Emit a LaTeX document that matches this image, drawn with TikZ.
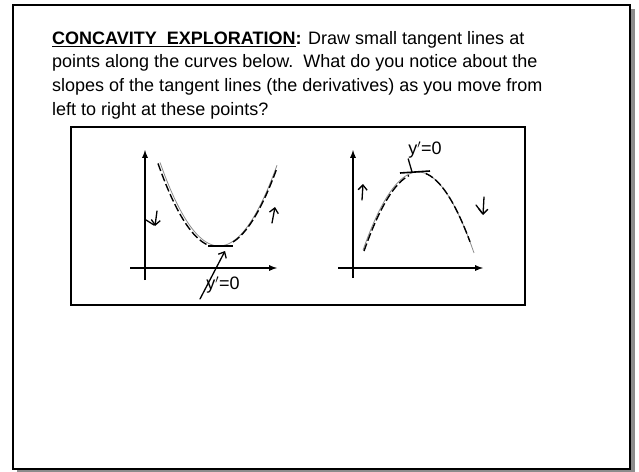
\documentclass[tikz,border=0pt]{standalone}
\usepackage{fontspec}
\setmainfont{Liberation Sans}
\usetikzlibrary{arrows.meta}
\begin{document}
\begin{tikzpicture}[x=1pt,y=-1pt,
	frame/.style={black,line width=2pt},
	axis/.style={-latex,line width=1.7pt},
	curve/.style={black!45,line width=0.8pt},
	tangent/.style={black,line width=1.4pt,dash pattern=on 8pt off 3pt},
	hand/.style={-{Straight Barb[length=5pt,width=9pt]},line width=1.3pt,line cap=round},
	handtext/.style={font=\fontsize{18}{18}\selectfont,inner sep=0pt}]
	\useasboundingbox (0,0) rectangle (639,471);
	\fill[black!45] (17,9) rectangle (635,473);
	\fill[white] (13,5) rectangle (630,469);
	\draw[frame] (13,5) rectangle (630,469);
	\node[anchor=north west,align=left,inner sep=0pt,font=\fontsize{18}{23.7}\selectfont] (task) at (52,31)
		{\underline{\textbf{CONCAVITY\ \ EXPLORATION}}\textbf{:} Draw small tangent lines at\\
		points along the curves below.\ \ What do you notice about the\\
		slopes of the tangent lines (the derivatives) as you move from\\
		left to right at these points?};
	\draw[frame] (71,127) rectangle (525,305);
	% concave up
	\draw[axis] (145,280) -- (145,150);
	\draw[axis] (130,268) -- (277,268);
	\draw[curve] plot [domain=160:277,smooth] (\x,{246-0.024*(\x-219)^2});
	\draw[tangent] plot [domain=160:210,smooth] (\x-2,{247-0.024*(\x-219)^2});
	\draw[tangent] plot [domain=232:276,smooth] (\x+1,{246-0.024*(\x-219)^2});
	\draw[black,line width=1.6pt] (208,246) -- (233,246);
	\coordinate (minL) at (225,251);
	\node[handtext] (lblL) at (223,285) {y$'$=0};
	\draw[hand] (200,299) -- (minL);
	\draw[line width=1.3pt,line cap=round] (146,220) -- (154,225);
	\draw[hand] (157,211) -- (155,226);
	\draw[hand] (272,223) -- (275,207);
	% concave down
	\draw[axis] (353,278) -- (353,150);
	\draw[axis] (338,268) -- (483,268);
	\draw[curve] plot [domain=363:474,smooth] (\x,{172+0.0258*(\x-418)^2});
	\draw[tangent] plot [domain=363:408,smooth] (\x+1,{173+0.0258*(\x-418)^2});
	\draw[tangent] plot [domain=426:470,smooth] (\x,{172+0.0258*(\x-418)^2});
	\draw[black,line width=1.6pt] (400,173) -- (430,171);
	\coordinate (maxR) at (412,172);
	\node[handtext] (lblR) at (425,150) {y$'$=0};
	\draw[line width=1.3pt] (lblR.south west) -- (maxR);
	\draw[hand] (362,200) -- (363,184);
	\draw[line width=1.3pt,line cap=round] (476,205) -- (482,213);
	\draw[hand] (484,197) -- (483,215);
\end{tikzpicture}
\end{document}
